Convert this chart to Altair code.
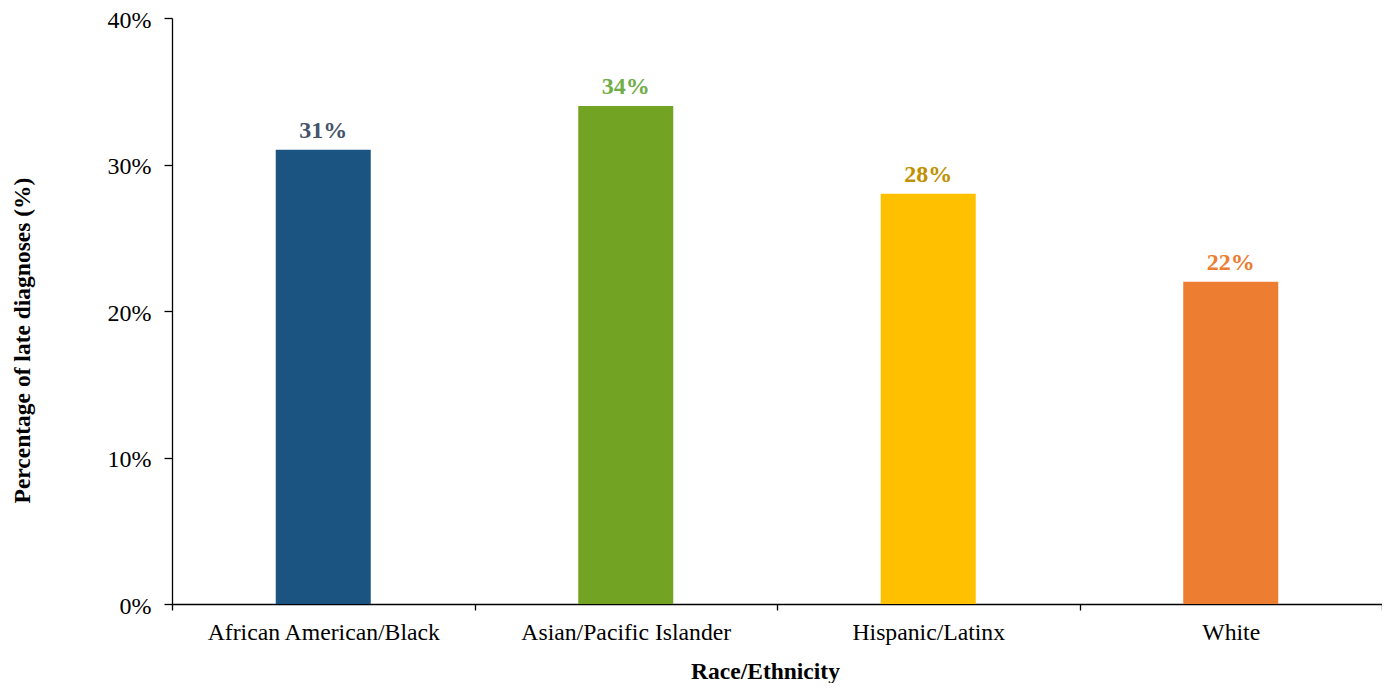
import altair as alt
import pandas as pd

categories = ["African American/Black", "Asian/Pacific Islander", "Hispanic/Latinx", "White"]
values = [31, 34, 28, 22]
bar_colors = ["#1B5480", "#72A323", "#FFC000", "#ED7D31"]
label_colors = ["#44546A", "#70AD47", "#BF9000", "#ED7D31"]
y_ticks = [0, 10, 20, 30, 40]

df = pd.DataFrame({"group": categories, "value": values})

FONT = "Liberation Serif"

x_enc = alt.X(
    "group:N",
    sort=categories,
    scale=alt.Scale(paddingInner=0, paddingOuter=0),
    axis=alt.Axis(
        title="Race/Ethnicity",
        labelAngle=0,
        labelLimit=0,
        tickBand="extent",
        tickSize=6,
        labelPadding=10,
        labelFontSize=23.7,
        labelFont=FONT,
        labelColor="#000000",
        titleFont=FONT,
        titleFontSize=23.5,
        titleFontWeight="bold",
        titleColor="#000000",
        titleBaseline="alphabetic",
        titleX=593,
        titleY=74,
        titleAlign="center",
        domainColor="#000000",
        tickColor="#000000",
        domainWidth=1.3,
        tickWidth=1.3,
        grid=False,
    ),
)

y_enc = alt.Y(
    "value:Q",
    scale=alt.Scale(domain=[0, 40], nice=False),
    axis=alt.Axis(
        title="Percentage of late diagnoses (%)",
        values=y_ticks,
        labelExpr="datum.value + '%'",
        tickSize=8,
        labelPadding=13,
        labelOffset=2,
        labelFontSize=24,
        labelFont=FONT,
        labelColor="#000000",
        titleFont=FONT,
        titleFontSize=23.5,
        titleFontWeight="bold",
        titleColor="#000000",
        titleAngle=-90,
        titleBaseline="alphabetic",
        titleAlign="center",
        titleX=-143,
        titleY=322,
        domainColor="#000000",
        tickColor="#000000",
        domainWidth=1.3,
        tickWidth=1.3,
        grid=False,
    ),
)

bars = alt.Chart(df).mark_bar(width=95).encode(
    x=x_enc,
    y=y_enc,
    color=alt.Color("group:N", scale=alt.Scale(domain=categories, range=bar_colors), legend=None),
)

labels = alt.Chart(df).transform_calculate(
    label="datum.value + '%'"
).mark_text(
    font=FONT, fontSize=24, fontWeight="bold", baseline="alphabetic", dy=-12, align="center"
).encode(
    x=alt.X("group:N", sort=categories),
    y=alt.Y("value:Q"),
    text="label:N",
    color=alt.Color("group:N", scale=alt.Scale(domain=categories, range=label_colors), legend=None),
)

chart = alt.layer(bars, labels).resolve_scale(color="independent").properties(
    width=1210,
    height=586,
    autosize=alt.AutoSizeParams(type="none"),
    padding={"left": 164, "top": 10, "right": 0, "bottom": 79},
    background="#FFFFFF",
).configure_view(stroke=None)

chart.save("out.html", embed_options={"renderer": "svg", "actions": False})
